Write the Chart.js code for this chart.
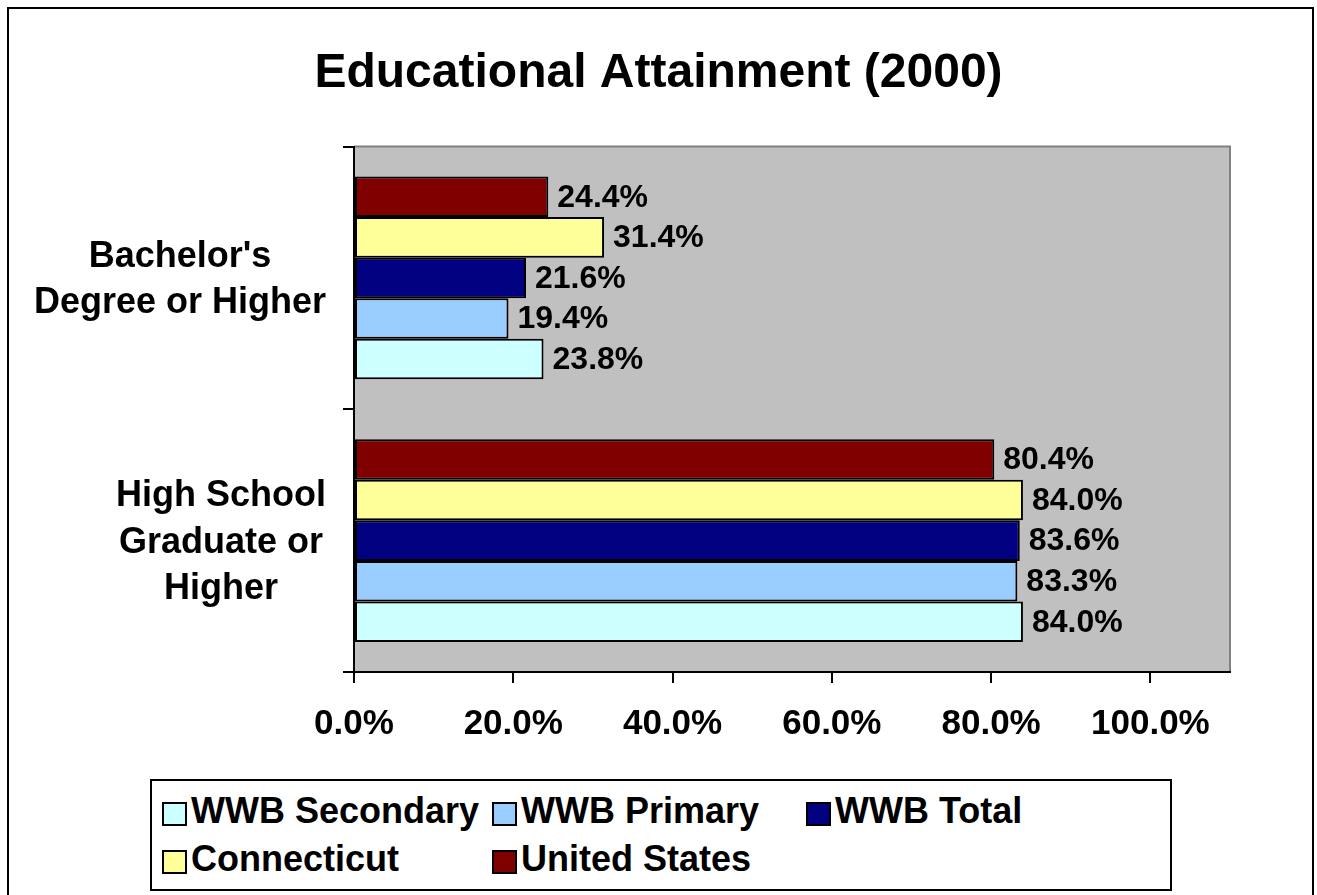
<!DOCTYPE html>
<html>
<head>
<meta charset="utf-8">
<script src="https://cdn.jsdelivr.net/npm/chart.js@4"></script>
<style>
  body { margin: 0; background: #fff; font-family: "Liberation Sans", Arial, sans-serif; }
  #frame { position: absolute; left: 7px; top: 7px; width: 1307px; height: 900px; border: 2px solid #000; box-sizing: border-box; }
  #wrap { position: absolute; left: 0; top: 0; width: 1317px; height: 895px; }
  #legend { position: absolute; left: 150px; top: 779px; width: 1022px; height: 112px; border: 2px solid #000; box-sizing: border-box; background: #fff; }
  .item { position: absolute; display: flex; align-items: center; font-weight: bold; font-size: 36px; line-height: 1; color: #000; white-space: nowrap; }
  .item span.txt { position: relative; top: -3px; }
  .swatch { width: 25px; height: 24px; border: 2px solid #000; box-sizing: border-box; margin-right: 4px; }
</style>
</head>
<body>
<div id="frame"></div>
<div id="wrap"><canvas id="chart" width="1317" height="895"></canvas></div>
<div id="legend"></div>
<script>
// Data
const categories = [["Bachelor's", "Degree or Higher"], ["High School", "Graduate or", "Higher"]];
const seriesNames = ['WWB Secondary', 'WWB Primary', 'WWB Total', 'Connecticut', 'United States'];
const seriesColors = ['#CCFFFF', '#99CCFF', '#000080', '#FFFF99', '#800000'];
const wwbSecondary = [23.8, 84.0];
const wwbPrimary = [19.4, 83.3];
const wwbTotal = [21.6, 83.6];
const connecticut = [31.4, 84.0];
const unitedStates = [24.4, 80.4];
const xTickValues = [0, 20, 40, 60, 80, 100];

const seriesValues = [wwbSecondary, wwbPrimary, wwbTotal, connecticut, unitedStates];

// Excel draws the first series at the bottom of each group, so reverse for Chart.js
const datasets = seriesNames.map((name, i) => ({
  label: name,
  data: seriesValues[i],
  backgroundColor: seriesColors[i],
  borderColor: '#000',
  borderWidth: 2,
  borderSkipped: false
})).reverse();

const FONT = '"Liberation Sans", Arial, sans-serif';

// gray plot area with a thin gray frame
const plotBackground = {
  id: 'plotBackground',
  beforeDraw(chart) {
    const { ctx, chartArea: a } = chart;
    ctx.save();
    ctx.fillStyle = '#C0C0C0';
    ctx.fillRect(a.left, a.top, a.right - a.left, a.bottom - a.top);
    ctx.strokeStyle = '#808080';
    ctx.lineWidth = 2;
    ctx.beginPath();
    ctx.moveTo(a.left, a.top);
    ctx.lineTo(a.right, a.top);
    ctx.lineTo(a.right, a.bottom);
    ctx.stroke();
    ctx.restore();
  }
};

// value labels to the right of each bar
const barLabels = {
  id: 'barLabels',
  afterDatasetsDraw(chart) {
    const ctx = chart.ctx;
    ctx.save();
    ctx.font = 'bold 32px ' + FONT;
    ctx.fillStyle = '#000';
    ctx.textAlign = 'left';
    ctx.textBaseline = 'middle';
    chart.data.datasets.forEach((ds, i) => {
      chart.getDatasetMeta(i).data.forEach((bar, j) => {
        ctx.fillText(ds.data[j].toFixed(1) + '%', bar.x + 9, bar.y + 1);
      });
    });
    ctx.restore();
  }
};

// category labels: block right-aligned, each line centred inside the block
const categoryLabels = {
  id: 'categoryLabels',
  afterDraw(chart) {
    const ctx = chart.ctx;
    const y = chart.scales.y;
    const lineHeight = 46.5;
    ctx.save();
    ctx.font = 'bold 36px ' + FONT;
    ctx.fillStyle = '#000';
    ctx.textAlign = 'center';
    ctx.textBaseline = 'middle';
    categories.forEach((lines, i) => {
      const w = Math.max(...lines.map(l => ctx.measureText(l).width));
      const cx = y.right - 28 - w / 2;
      const cy = y.getPixelForValue(i) + 2;
      lines.forEach((l, k) => {
        ctx.fillText(l, cx, cy + (k - (lines.length - 1) / 2) * lineHeight);
      });
    });
    ctx.restore();
  }
};

const chart = new Chart(document.getElementById('chart').getContext('2d'), {
  type: 'bar',
  data: {
    labels: categories.map(c => c.join(' ')),
    datasets: datasets
  },
  options: {
    indexAxis: 'y',
    responsive: false,
    animation: false,
    layout: { padding: { left: 87, right: 87, top: 0, bottom: 143 } },
    datasets: { bar: { categoryPercentage: 0.772, barPercentage: 1 } },
    scales: {
      x: {
        min: 0,
        max: 110,
        afterBuildTicks: s => { s.ticks = xTickValues.map(v => ({ value: v })); },
        afterFit: s => { s.height = 80; },
        ticks: {
          callback: v => v.toFixed(1) + '%',
          color: '#000',
          font: { family: FONT, size: 35, weight: 'bold' },
          padding: 20,
          maxRotation: 0
        },
        grid: { drawOnChartArea: false, drawTicks: true, tickLength: 11, color: '#000', lineWidth: 2 },
        border: { color: '#000', width: 2 }
      },
      y: {
        afterFit: s => { s.width = 354 - 87; },
        ticks: { display: false },
        grid: { offset: true, drawOnChartArea: false, drawTicks: true, tickLength: 11, color: '#000', lineWidth: 2 },
        border: { color: '#000', width: 2 }
      }
    },
    plugins: {
      legend: { display: false },
      tooltip: { enabled: false },
      title: {
        display: true,
        text: 'Educational Attainment (2000)',
        color: '#000',
        font: { family: FONT, size: 48, weight: 'bold' },
        padding: { top: 45, bottom: 44 }
      }
    }
  },
  plugins: [plotBackground, barLabels, categoryLabels]
});

// legend in Excel's grid layout
const legendEl = document.getElementById('legend');
const legendSpots = [[10, 15], [340, 15], [654, 15], [10, 63], [340, 63]];
seriesNames.forEach((name, i) => {
  const item = document.createElement('div');
  item.className = 'item';
  item.style.left = legendSpots[i][0] + 'px';
  item.style.top = legendSpots[i][1] + 'px';
  const sw = document.createElement('span');
  sw.className = 'swatch';
  sw.style.background = seriesColors[i];
  const txt = document.createElement('span');
  txt.className = 'txt';
  txt.textContent = name;
  item.appendChild(sw);
  item.appendChild(txt);
  legendEl.appendChild(item);
});
</script>
</body>
</html>
